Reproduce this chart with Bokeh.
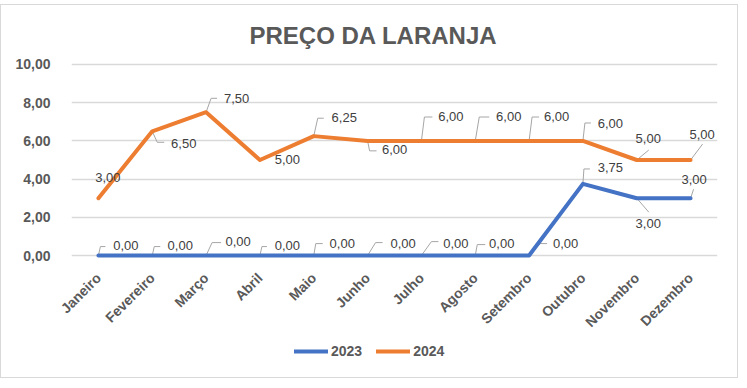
from bokeh.plotting import figure
from bokeh.models import (FixedTicker, Legend, LegendItem, Title, ColumnDataSource, Spacer)
from bokeh.layouts import column
from bokeh.embed import file_html
from bokeh.resources import INLINE
from bokeh.core.properties import value
import math

# ---- data ----
months = ["Janeiro", "Fevereiro", "Março", "Abril", "Maio", "Junho",
          "Julho", "Agosto", "Setembro", "Outubro", "Novembro", "Dezembro"]
preco_2023 = [0.00, 0.00, 0.00, 0.00, 0.00, 0.00, 0.00, 0.00, 0.00, 3.75, 3.00, 3.00]
preco_2024 = [3.00, 6.50, 7.50, 5.00, 6.25, 6.00, 6.00, 6.00, 6.00, 6.00, 5.00, 5.00]
y_ticks = [0, 2, 4, 6, 8, 10]
y_tick_labels = ["0,00", "2,00", "4,00", "6,00", "8,00", "10,00"]
title_text = "PREÇO DA LARANJA"
series_names = ["2023", "2024"]

# ---- style / layout ----
BLUE = "#4472C4"
ORANGE = "#ED7D31"
GREY_TXT = "#595959"
LBL_TXT = "#404040"
LEADER = "#A6A6A6"
CARD = "1px solid #d9d9d9"
FONT = "Liberation Sans"

TOP = 4
W, H, H2 = 738, 333, 41
ML, MR, MT, MB = 70, 22, 55, 78
FW = W - ML - MR
FH = H - MT - MB
Y0, Y1 = -0.208, 10.208
XS = FW / 12.0
YS = FH / (Y1 - Y0)

# label placement (pixel offsets from point, screen y down) and leader paths
lab_2023 = [
    ((27.5, -10), [(0, 0), (2, -9), (7, -9)]),
    ((28, -10), [(0, 0), (2, -9), (8, -9)]),
    ((32, -14), [(0, 0), (6, -13), (15, -13)]),
    ((27.5, -10), [(0, 0), (2, -9), (7, -9)]),
    ((28.5, -12), [(0, 0), (2, -12), (9, -12)]),
    ((35.5, -12), [(0, 0), (8, -13), (15, -13)]),
    ((34.5, -12), [(0, 0), (10, -14), (17, -14)]),
    ((26.5, -12), [(0, 0), (2, -11), (10, -11)]),
    ((36.5, -12), [(0, 0), (11, -12), (18, -12)]),
    ((27.5, -16), [(0, 0), (1, -15), (7, -15)]),
    ((11.5, 25), [(0, 0), (12, 14)]),
    ((3.5, -19), [(0, 0), (3, -9)]),
]
lab_2024 = [
    ((9.5, -21), [(0, 0), (7, -9)]),
    ((31.5, 12), [(0, 0), (5, 11), (12, 11)]),
    ((30.5, -14), [(0, 0), (5, -14), (11, -14)]),
    ((27.5, -1), []),
    ((30.5, -19), [(0, 0), (4, -18), (10, -18)]),
    ((27, 9), [(0, 0), (2, 10), (9, 10)]),
    ((29.5, -24), [(0, 0), (3, -24), (11, -24)]),
    ((33.5, -24), [(0, 0), (4, -24), (14, -24)]),
    ((27.5, -24), [(0, 0), (3, -24), (10, -24)]),
    ((27.5, -17), [(0, 0), (2, -18), (8, -18)]),
    ((11.5, -22), [(0, 0), (12, -10)]),
    ((11.5, -26), [(0, 0), (12, -16)]),
]

p = figure(width=W, height=H, output_backend="svg", toolbar_location=None,
           x_range=(-0.5, 11.5), y_range=(Y0, Y1),
           min_border_left=ML, min_border_right=MR,
           min_border_top=MT, min_border_bottom=MB)
p.styles = {"border-left": CARD, "border-right": CARD, "border-top": CARD}
p.outline_line_color = None
p.background_fill_color = "white"
p.border_fill_color = "white"

xs = list(range(len(months)))

# leader lines
def leaders(vals, layout):
    lx, ly = [], []
    for i, (v, (_, path)) in enumerate(zip(vals, layout)):
        if len(path) < 2:
            continue
        lx.append([i + a / XS for a, b in path])
        ly.append([v - b / YS for a, b in path])
    return lx, ly

for vals, lay in ((preco_2023, lab_2023), (preco_2024, lab_2024)):
    lx, ly = leaders(vals, lay)
    p.multi_line(lx, ly, line_color=LEADER, line_width=1)

p.line(xs, preco_2023, line_color=BLUE, line_width=4, line_join="round", line_cap="round")
p.line(xs, preco_2024, line_color=ORANGE, line_width=4, line_join="round", line_cap="round")

def fmt(v):
    return f"{v:.2f}".replace(".", ",")

for vals, lay in ((preco_2023, lab_2023), (preco_2024, lab_2024)):
    src = ColumnDataSource(dict(
        x=xs, y=vals, t=[fmt(v) for v in vals],
        dx=[l[0][0] for l in lay], dy=[l[0][1] for l in lay]))
    p.text(x="x", y="y", text="t", x_offset="dx", y_offset="dy", source=src,
           text_align="center", text_baseline="middle",
           text_font=value(FONT), text_font_size="13px", text_color=LBL_TXT)

# axes
p.yaxis.ticker = FixedTicker(ticks=y_ticks)
p.yaxis.major_label_overrides = {t: l for t, l in zip(y_ticks, y_tick_labels)}
p.xaxis.ticker = FixedTicker(ticks=xs)
p.xaxis.major_label_overrides = {i: m for i, m in enumerate(months)}
p.xaxis.major_label_orientation = math.pi / 4
for ax in (p.xaxis, p.yaxis):
    ax.axis_line_color = None
    ax.major_tick_line_color = None
    ax.minor_tick_line_color = None
    ax.major_label_text_font = FONT
    ax.major_label_text_font_style = "bold"
    ax.major_label_text_font_size = "14px"
    ax.major_label_text_color = GREY_TXT
p.yaxis.major_label_standoff = 15
p.xaxis.major_label_standoff = 10

p.xgrid.grid_line_color = None
p.ygrid.ticker = FixedTicker(ticks=y_ticks)
p.ygrid.grid_line_color = "#D9D9D9"
p.ygrid.grid_line_width = 1.3

# title
p.title = Title(text=title_text, align="left", offset=178, standoff=24,
                text_font=FONT, text_font_style="bold", text_font_size="24px",
                text_color=GREY_TXT)

# legend strip (a second, axis-less figure below the chart; its frame aligns with the chart's)
p2 = figure(width=W, height=H2, output_backend="svg", toolbar_location=None,
            x_range=(100, 101), y_range=(100, 101),
            x_axis_location=None, y_axis_location=None,
            min_border_left=ML, min_border_right=MR, min_border_top=0, min_border_bottom=0)
p2.styles = {"border-left": CARD, "border-right": CARD, "border-bottom": CARD}
p2.grid.visible = False
p2.outline_line_color = None
p2.background_fill_color = "white"
p2.border_fill_color = "white"
k23 = p2.line(xs, preco_2023, line_color=BLUE, line_width=4, line_cap="round")
k24 = p2.line(xs, preco_2024, line_color=ORANGE, line_width=4, line_cap="round")

legend = Legend(items=[LegendItem(label=series_names[0], renderers=[k23]),
                       LegendItem(label=series_names[1], renderers=[k24])],
                orientation="horizontal", location=(223, 19),
                padding=0, margin=0, spacing=14, label_standoff=3,
                glyph_width=34, glyph_height=16, label_height=16,
                background_fill_alpha=0, border_line_alpha=0,
                label_text_font=FONT, label_text_font_style="bold",
                label_text_font_size="14px", label_text_color=GREY_TXT)
p2.add_layout(legend)

layout = column(Spacer(width=W, height=TOP), p, p2, spacing=0)
open("out.html", "w").write(file_html(layout, INLINE))
